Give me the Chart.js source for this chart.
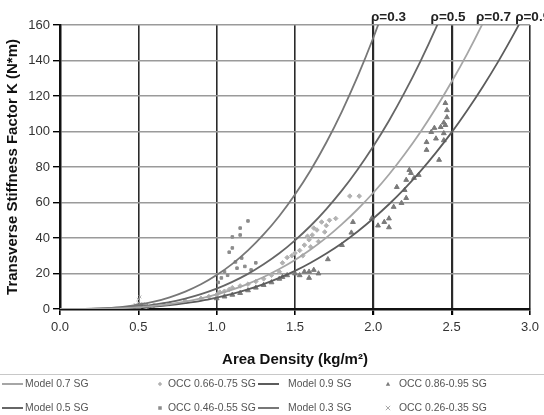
<!DOCTYPE html>
<html>
<head>
<meta charset="utf-8">
<script src="https://cdn.jsdelivr.net/npm/chart.js"></script>
<style>
  body { margin: 0; background: #fff; }
  #wrap { width: 544px; height: 415px; }
</style>
</head>
<body>
<div id="wrap"><canvas id="myChart" width="544" height="415"></canvas></div>
<script>
// model curves at steps of 0.1 kg/m2
var modelX = [0,0.1,0.2,0.3,0.4,0.5,0.6,0.7,0.8,0.9,1.0,1.1,1.2,1.3,1.4,1.5,1.6,1.7,1.8,1.9,2.0,2.1,2.2,2.3,2.4,2.5,2.6,2.7,2.8,2.9,3.0];
var model03 = [0,0.02,0.15,0.52,1.2,2.4,4.1,6.6,9.8,13.9,19.1,25.4,33.0,42.0,52.4,64.5,78.2,93.8,111.4,131.0,152.8,176.9];
var model05 = [0,0.01,0.09,0.31,0.73,1.4,2.5,3.9,5.9,8.4,11.5,15.3,19.8,25.2,31.4,38.7,46.9,56.3,66.8,78.6,91.7,106.1,122.0,139.4,158.4,179.1];
var model07 = [0,0.01,0.07,0.22,0.52,1.0,1.8,2.8,4.2,6.0,8.2,10.9,14.2,18.0,22.5,27.6,33.5,40.2,47.8,56.2,65.5,75.8,87.2,99.6,113.2,128.0,143.9,161.2,179.8];
var model09 = [0,0.01,0.05,0.17,0.41,0.8,1.4,2.2,3.3,4.6,6.4,8.5,11.0,14.0,17.5,21.5,26.1,31.3,37.1,43.7,51.0,59.0,67.8,77.5,88.1,99.5,112.0,125.4,139.8,155.4,172.0];

// measured points
var occ26X = [0.42,0.45,0.47,0.48,0.50,0.50,0.51,0.52,0.53,0.55,0.57,0.60];
var occ26Y = [0.8,1.2,1.5,2.5,3.5,5.5,6.8,2.0,3.0,1.8,1.5,2.2];

var occ46X = [0.48,0.52,0.55,1.01,1.03,1.05,1.07,1.08,1.10,1.10,1.12,1.13,1.15,1.15,1.16,1.18,1.20,1.22,1.25];
var occ46Y = [1.5,2.5,1.8,15,17.5,21,19,32,34.4,40.6,26.5,23,41.7,45.6,28.7,24,49.6,22,26];

var occ66X = [0.55,0.6,0.7,0.8,0.9,0.95,1.0,1.02,1.05,1.08,1.1,1.15,1.2,1.25,1.3,1.35,1.4,1.42,1.45,1.48,
              1.50,1.53,1.56,1.58,1.59,1.61,1.62,1.64,1.67,1.69,1.70,1.72,1.76,1.85,1.91,1.55,1.60,1.65];
var occ66Y = [1.5,2,3,4.5,6,7,8,9.5,10,11,12,13,14,15.5,17,19,21,26,29,30,
              31.5,33,36,41,39,41.7,45.6,44.5,49,43.4,47,50,51,63.6,63.6,30,35,38];

var occ86X = [0.5,0.55,1.0,1.05,1.1,1.15,1.2,1.25,1.3,1.35,1.4,1.42,1.45,1.5,1.53,1.56,1.59,1.59,1.62,1.65,1.71,1.80,1.86,1.87,
              1.99,2.03,2.07,2.10,2.10,2.13,2.15,2.18,2.20,2.21,2.21,2.23,2.24,2.26,2.29,
              2.34,2.34,2.37,2.39,2.40,2.42,2.43,2.45,2.45,2.45,2.46,2.46,2.47,2.47];
var occ86Y = [1,1.2,6,7,8,9,10.5,12,13.5,15,17,18,19,20,19,21,17.5,21,22,20,28,36,43,49,
              51,47,49,51,46,57.5,68.7,59.7,67,62.5,72.7,78.3,76.6,73.8,75.5,
              89.6,94,99.7,102,96,84,102.5,95,105,99,103.6,116,108,112];

var xTicks = [0,0.5,1.0,1.5,2.0,2.5,3.0];
var rhoLabels = ['ρ=0.3','ρ=0.5','ρ=0.7','ρ=0.9'];
var rhoTopX = [2.03,2.41,2.70,2.95];

function pts(xs, ys){
  var out = [];
  for (var i = 0; i < ys.length; i++) out.push({x: xs[i], y: ys[i]});
  return out;
}
function modelLine(label, ys, color){
  return { type:'line', label: label, data: pts(modelX, ys), borderColor: color, backgroundColor: color,
           borderWidth: 1.8, pointRadius: 0, showLine: true, fill: false, tension: 0.3, order: 0 };
}
function occ(label, xs, ys, style, color, r){
  return { label: label, data: pts(xs, ys), pointStyle: style, backgroundColor: color, borderColor: color,
           pointRadius: r, borderWidth: 1, showLine: false, order: 1 };
}

// legend order, row by row
var datasets = [
  modelLine('Model 0.7 SG', model07, '#a6a6a6'),
  occ('OCC 0.66-0.75 SG', occ66X, occ66Y, 'rectRot', '#b2b2b2', 2.3),
  modelLine('Model 0.9 SG', model09, '#5c5c5c'),
  occ('OCC 0.86-0.95 SG', occ86X, occ86Y, 'triangle', '#7a7a7a', 2.8),
  modelLine('Model 0.5 SG', model05, '#666666'),
  occ('OCC 0.46-0.55 SG', occ46X, occ46Y, 'rect', '#8c8c8c', 1.8),
  modelLine('Model 0.3 SG', model03, '#777777'),
  occ('OCC 0.26-0.35 SG', occ26X, occ26Y, 'crossRot', '#a8a8a8', 2)
];

function drawMark(ctx, style, x, y, r, color){
  ctx.save();
  ctx.fillStyle = color; ctx.strokeStyle = color; ctx.lineWidth = 1;
  ctx.beginPath();
  if (style === 'triangle'){
    ctx.moveTo(x, y - r); ctx.lineTo(x + r, y + r*0.8); ctx.lineTo(x - r, y + r*0.8); ctx.closePath(); ctx.fill();
  } else if (style === 'rectRot'){
    ctx.moveTo(x, y - r); ctx.lineTo(x + r, y); ctx.lineTo(x, y + r); ctx.lineTo(x - r, y); ctx.closePath(); ctx.fill();
  } else if (style === 'rect'){
    ctx.rect(x - r*0.8, y - r*0.8, r*1.6, r*1.6); ctx.fill();
  } else {
    ctx.moveTo(x - r, y - r); ctx.lineTo(x + r, y + r); ctx.moveTo(x + r, y - r); ctx.lineTo(x - r, y + r); ctx.stroke();
  }
  ctx.restore();
}

var extras = {
  id: 'extras',
  afterDraw: function(chart){
    var ctx = chart.ctx;
    var xs = chart.scales.x;
    ctx.save();
    // rho labels on top
    ctx.font = 'bold 13.5px "Liberation Sans", Arial, sans-serif';
    ctx.fillStyle = '#222';
    ctx.textAlign = 'left';
    ctx.textBaseline = 'alphabetic';
    for (var i = 0; i < rhoLabels.length; i++){
      ctx.fillText(rhoLabels[i], xs.getPixelForValue(rhoTopX[i]) - 7, 21);
    }
    // legend, 4 columns x 2 rows
    ctx.strokeStyle = '#c8c8c8'; ctx.lineWidth = 1;
    ctx.beginPath(); ctx.moveTo(0, 374.5); ctx.lineTo(544, 374.5); ctx.stroke();
    var colMark = [2, 160, 258, 388];
    var colText = [25, 168, 288, 399];
    var rowY = [384, 408];
    ctx.font = '10.4px "Liberation Sans", Arial, sans-serif';
    ctx.textBaseline = 'middle';
    chart.data.datasets.forEach(function(ds, k){
      var c = k % 4, r = Math.floor(k / 4);
      var y = rowY[r];
      if (ds.type === 'line'){
        ctx.strokeStyle = ds.borderColor; ctx.lineWidth = 2;
        ctx.beginPath(); ctx.moveTo(colMark[c], y); ctx.lineTo(colMark[c] + 21, y); ctx.stroke();
      } else {
        drawMark(ctx, ds.pointStyle, colMark[c], y, 2.2, ds.backgroundColor);
      }
      ctx.fillStyle = '#555';
      ctx.fillText(ds.label, colText[c], y);
    });
    ctx.restore();
  }
};

new Chart('myChart', {
  type: 'scatter',
  data: { datasets: datasets },
  plugins: [extras],
  options: {
    responsive: false,
    animation: false,
    devicePixelRatio: 1,
    layout: { padding: { top: 25, right: 13, bottom: 46, left: 0 } },
    plugins: { legend: { display: false }, tooltip: { enabled: false } },
    scales: {
      x: {
        type: 'linear', min: 0, max: 3,
        afterFit: function(s){ s.height = 60; },
        afterBuildTicks: function(s){ s.ticks = xTicks.map(function(v){ return {value: v}; }); },
        ticks: { callback: function(v){ return Number(v).toFixed(1); }, color: '#333', padding: 5,
                 font: { family: '"Liberation Sans", Arial, sans-serif', size: 13 } },
        grid: { color: '#2a2a2a', tickColor: '#000', tickLength: 6,
                lineWidth: function(c){ return (c.tick && (c.tick.value === 2 || c.tick.value === 2.5)) ? 2.2 : 1.6; } },
        border: { color: '#111', width: 2.5 },
        title: { display: true, text: 'Area Density (kg/m²)', color: '#111', padding: { top: 0, bottom: 0 },
                 font: { family: '"Liberation Sans", Arial, sans-serif', size: 15, weight: 'bold' } }
      },
      y: {
        min: 0, max: 160,
        afterFit: function(s){ s.width = 60; },
        ticks: { stepSize: 20, color: '#333', padding: 3,
                 font: { family: '"Liberation Sans", Arial, sans-serif', size: 13 } },
        grid: { color: '#9a9a9a', tickColor: '#000', tickLength: 7, lineWidth: 1.4 },
        border: { color: '#111', width: 2.5 },
        title: { display: true, text: 'Transverse Stiffness Factor K (N*m)', color: '#111', padding: { top: 4, bottom: 0 },
                 font: { family: '"Liberation Sans", Arial, sans-serif', size: 15, weight: 'bold' } }
      }
    }
  }
});
</script>
</body>
</html>
